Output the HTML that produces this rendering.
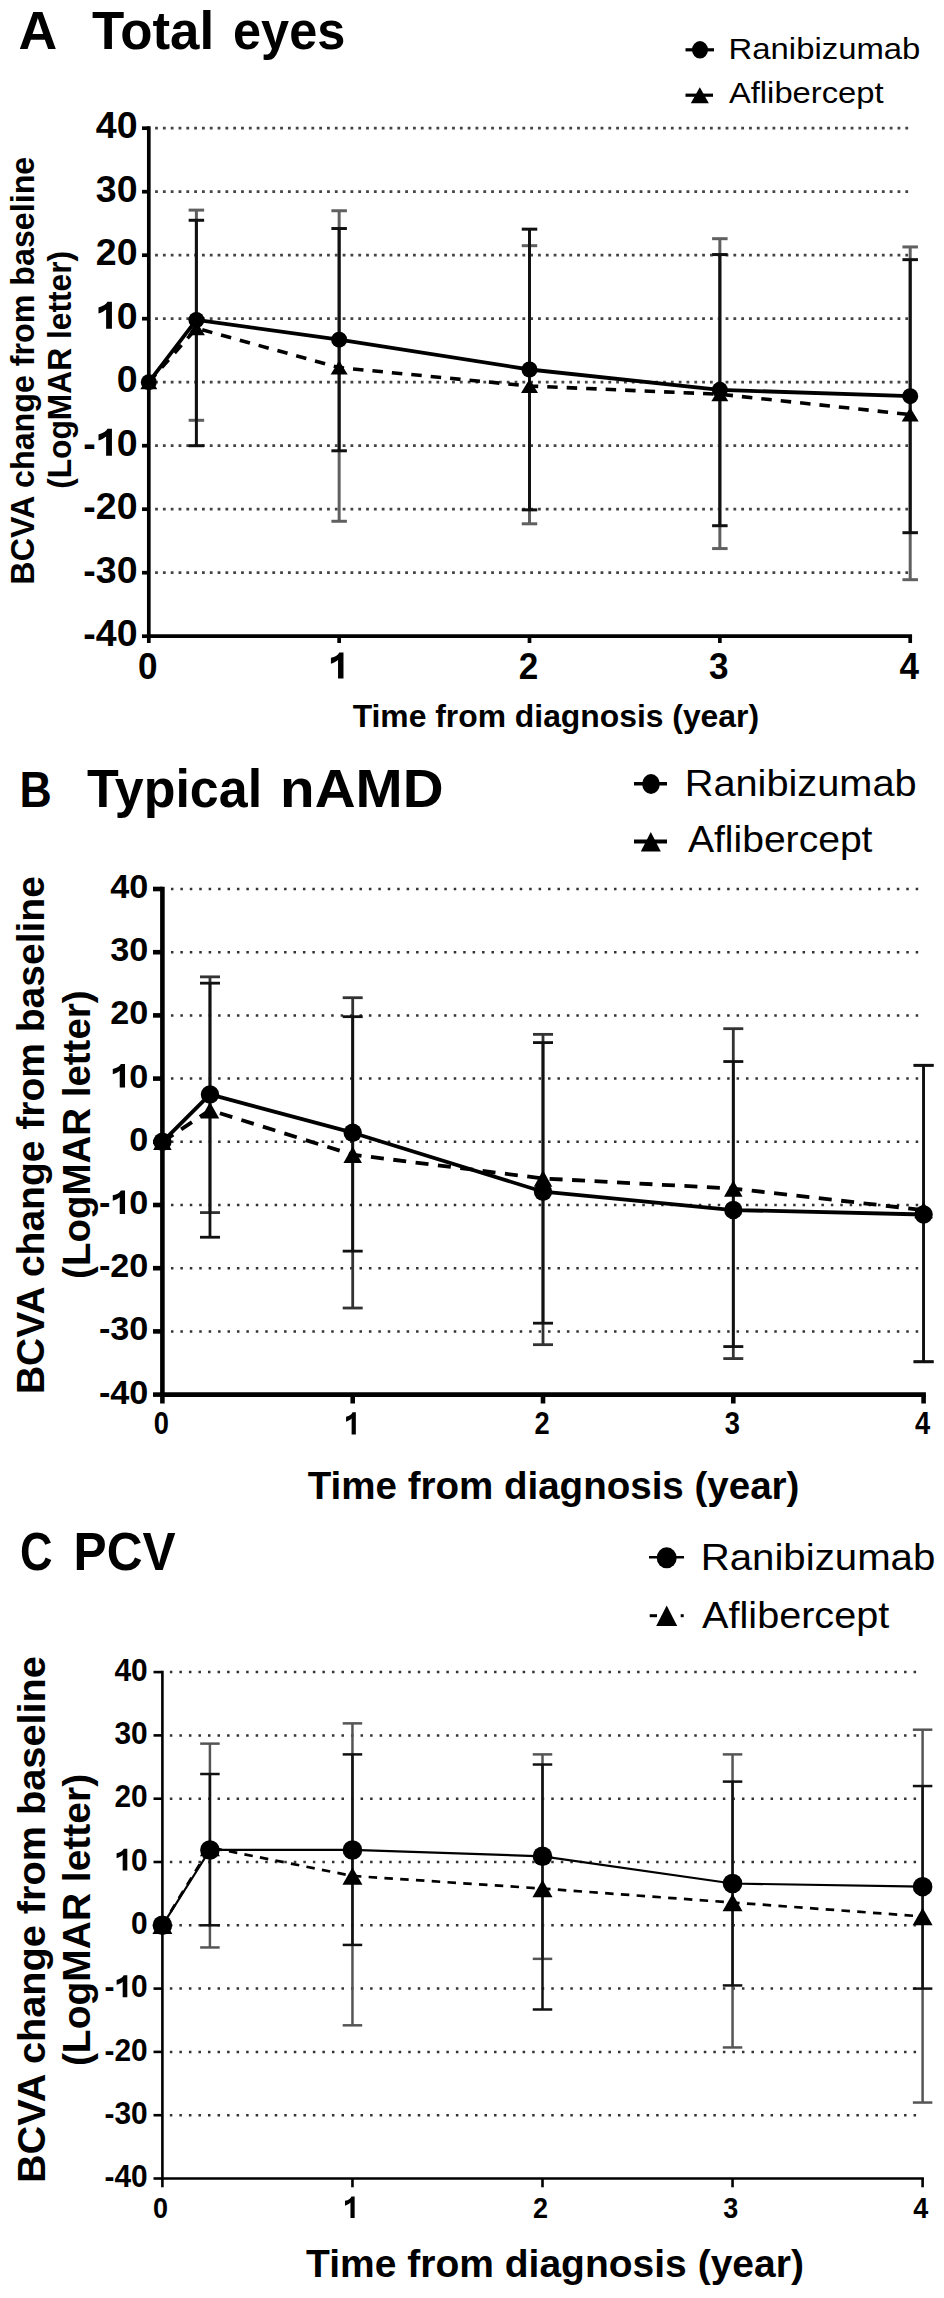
<!DOCTYPE html><html><head><meta charset="utf-8"><style>html,body{margin:0;padding:0;background:#fff;}svg{display:block;}text{font-family:"Liberation Sans",sans-serif;}</style></head><body>
<svg width="944" height="2298" viewBox="0 0 944 2298">
<rect width="944" height="2298" fill="#fff"/>
<line x1="155.1" y1="128.2" x2="908.2" y2="128.2" stroke="#444" stroke-width="2.8" stroke-dasharray="2.8 5.015"/>
<line x1="155.1" y1="191.7" x2="908.2" y2="191.7" stroke="#444" stroke-width="2.8" stroke-dasharray="2.8 5.015"/>
<line x1="155.1" y1="255.2" x2="908.2" y2="255.2" stroke="#444" stroke-width="2.8" stroke-dasharray="2.8 5.015"/>
<line x1="155.1" y1="318.7" x2="908.2" y2="318.7" stroke="#444" stroke-width="2.8" stroke-dasharray="2.8 5.015"/>
<line x1="155.1" y1="382.2" x2="908.2" y2="382.2" stroke="#444" stroke-width="2.8" stroke-dasharray="2.8 5.015"/>
<line x1="155.1" y1="445.7" x2="908.2" y2="445.7" stroke="#444" stroke-width="2.8" stroke-dasharray="2.8 5.015"/>
<line x1="155.1" y1="509.2" x2="908.2" y2="509.2" stroke="#444" stroke-width="2.8" stroke-dasharray="2.8 5.015"/>
<line x1="155.1" y1="572.7" x2="908.2" y2="572.7" stroke="#444" stroke-width="2.8" stroke-dasharray="2.8 5.015"/>
<line x1="196.388" y1="210.115" x2="196.388" y2="420.3" stroke="#606060" stroke-width="3" />
<line x1="188.638" y1="210.115" x2="204.138" y2="210.115" stroke="#606060" stroke-width="3" />
<line x1="188.638" y1="420.3" x2="204.138" y2="420.3" stroke="#606060" stroke-width="3" />
<line x1="339.15" y1="210.75" x2="339.15" y2="521.265" stroke="#606060" stroke-width="3" />
<line x1="331.4" y1="210.75" x2="346.9" y2="210.75" stroke="#606060" stroke-width="3" />
<line x1="331.4" y1="521.265" x2="346.9" y2="521.265" stroke="#606060" stroke-width="3" />
<line x1="529.5" y1="245.675" x2="529.5" y2="523.805" stroke="#606060" stroke-width="3" />
<line x1="521.75" y1="245.675" x2="537.25" y2="245.675" stroke="#606060" stroke-width="3" />
<line x1="521.75" y1="523.805" x2="537.25" y2="523.805" stroke="#606060" stroke-width="3" />
<line x1="719.85" y1="238.69" x2="719.85" y2="548.57" stroke="#606060" stroke-width="3" />
<line x1="712.1" y1="238.69" x2="727.6" y2="238.69" stroke="#606060" stroke-width="3" />
<line x1="712.1" y1="548.57" x2="727.6" y2="548.57" stroke="#606060" stroke-width="3" />
<line x1="910.2" y1="246.945" x2="910.2" y2="579.685" stroke="#606060" stroke-width="3" />
<line x1="902.45" y1="246.945" x2="917.95" y2="246.945" stroke="#606060" stroke-width="3" />
<line x1="902.45" y1="579.685" x2="917.95" y2="579.685" stroke="#606060" stroke-width="3" />
<line x1="196.388" y1="220.275" x2="196.388" y2="445.7" stroke="#111" stroke-width="3" />
<line x1="188.638" y1="220.275" x2="204.138" y2="220.275" stroke="#111" stroke-width="3" />
<line x1="188.638" y1="445.7" x2="204.138" y2="445.7" stroke="#111" stroke-width="3" />
<line x1="339.15" y1="228.53" x2="339.15" y2="450.78" stroke="#111" stroke-width="3" />
<line x1="331.4" y1="228.53" x2="346.9" y2="228.53" stroke="#111" stroke-width="3" />
<line x1="331.4" y1="450.78" x2="346.9" y2="450.78" stroke="#111" stroke-width="3" />
<line x1="529.5" y1="229.165" x2="529.5" y2="509.835" stroke="#111" stroke-width="3" />
<line x1="521.75" y1="229.165" x2="537.25" y2="229.165" stroke="#111" stroke-width="3" />
<line x1="521.75" y1="509.835" x2="537.25" y2="509.835" stroke="#111" stroke-width="3" />
<line x1="719.85" y1="254.565" x2="719.85" y2="525.71" stroke="#111" stroke-width="3" />
<line x1="712.1" y1="254.565" x2="727.6" y2="254.565" stroke="#111" stroke-width="3" />
<line x1="712.1" y1="525.71" x2="727.6" y2="525.71" stroke="#111" stroke-width="3" />
<line x1="910.2" y1="259.645" x2="910.2" y2="532.695" stroke="#111" stroke-width="3" />
<line x1="902.45" y1="259.645" x2="917.95" y2="259.645" stroke="#111" stroke-width="3" />
<line x1="902.45" y1="532.695" x2="917.95" y2="532.695" stroke="#111" stroke-width="3" />
<polyline points="148.8,382.2 196.388,328.225 339.15,367.595 529.5,386.01 719.85,394.265 910.2,414.585" fill="none" stroke="#000" stroke-width="3.6" stroke-dasharray="10.5 9" stroke-linejoin="round"/>
<polyline points="148.8,382.2 196.388,319.97 339.15,339.655 529.5,369.5 719.85,389.82 910.2,396.17" fill="none" stroke="#000" stroke-width="3.8" stroke-linejoin="round"/>
<polygon points="140.3,389.2 157.3,389.2 148.8,375.2" fill="#000"/>
<polygon points="187.888,335.225 204.888,335.225 196.388,321.225" fill="#000"/>
<polygon points="330.65,374.595 347.65,374.595 339.15,360.595" fill="#000"/>
<polygon points="521,393.01 538,393.01 529.5,379.01" fill="#000"/>
<polygon points="711.35,401.265 728.35,401.265 719.85,387.265" fill="#000"/>
<polygon points="901.7,421.585 918.7,421.585 910.2,407.585" fill="#000"/>
<circle cx="148.8" cy="382.2" r="8" fill="#000"/>
<circle cx="196.388" cy="319.97" r="8" fill="#000"/>
<circle cx="339.15" cy="339.655" r="8" fill="#000"/>
<circle cx="529.5" cy="369.5" r="8" fill="#000"/>
<circle cx="719.85" cy="389.82" r="8" fill="#000"/>
<circle cx="910.2" cy="396.17" r="8" fill="#000"/>
<line x1="148.8" y1="126.35" x2="148.8" y2="638.05" stroke="#000" stroke-width="3.7" />
<line x1="146.95" y1="636.2" x2="912.05" y2="636.2" stroke="#000" stroke-width="3.7" />
<line x1="142" y1="636.2" x2="148.8" y2="636.2" stroke="#000" stroke-width="3.7" />
<text x="83.312" y="646.2" font-size="37.5" font-weight="bold" textLength="12.488" lengthAdjust="spacingAndGlyphs">-</text>
<text x="95.801" y="646.2" font-size="37.5" font-weight="bold" textLength="20.856" lengthAdjust="spacingAndGlyphs">4</text>
<text x="116.656" y="646.2" font-size="37.5" font-weight="bold" textLength="20.856" lengthAdjust="spacingAndGlyphs">0</text>
<line x1="142" y1="572.7" x2="148.8" y2="572.7" stroke="#000" stroke-width="3.7" />
<text x="83.312" y="582.7" font-size="37.5" font-weight="bold" textLength="12.488" lengthAdjust="spacingAndGlyphs">-</text>
<text x="95.801" y="582.7" font-size="37.5" font-weight="bold" textLength="20.856" lengthAdjust="spacingAndGlyphs">3</text>
<text x="116.656" y="582.7" font-size="37.5" font-weight="bold" textLength="20.856" lengthAdjust="spacingAndGlyphs">0</text>
<line x1="142" y1="509.2" x2="148.8" y2="509.2" stroke="#000" stroke-width="3.7" />
<text x="83.312" y="519.2" font-size="37.5" font-weight="bold" textLength="12.488" lengthAdjust="spacingAndGlyphs">-</text>
<text x="95.801" y="519.2" font-size="37.5" font-weight="bold" textLength="20.856" lengthAdjust="spacingAndGlyphs">2</text>
<text x="116.656" y="519.2" font-size="37.5" font-weight="bold" textLength="20.856" lengthAdjust="spacingAndGlyphs">0</text>
<line x1="142" y1="445.7" x2="148.8" y2="445.7" stroke="#000" stroke-width="3.7" />
<text x="83.312" y="455.7" font-size="37.5" font-weight="bold" textLength="12.488" lengthAdjust="spacingAndGlyphs">-</text>
<path d="M106.113,455.7 L111.926,455.7 L111.926,428.85 L107.426,428.85 C106.301,431.512 103.301,433.2 98.501,434.4 L98.501,440.512 C101.801,439.575 104.426,438.075 106.113,436.575 Z" fill="#000"/>
<text x="116.656" y="455.7" font-size="37.5" font-weight="bold" textLength="20.856" lengthAdjust="spacingAndGlyphs">0</text>
<line x1="142" y1="382.2" x2="148.8" y2="382.2" stroke="#000" stroke-width="3.7" />
<text x="116.65" y="392.2" font-size="37.5" font-weight="bold" textLength="20.856" lengthAdjust="spacingAndGlyphs">0</text>
<line x1="142" y1="318.7" x2="148.8" y2="318.7" stroke="#000" stroke-width="3.7" />
<path d="M106.112,328.7 L111.925,328.7 L111.925,301.85 L107.425,301.85 C106.3,304.512 103.3,306.2 98.5,307.4 L98.5,313.512 C101.8,312.575 104.425,311.075 106.112,309.575 Z" fill="#000"/>
<text x="116.656" y="328.7" font-size="37.5" font-weight="bold" textLength="20.856" lengthAdjust="spacingAndGlyphs">0</text>
<line x1="142" y1="255.2" x2="148.8" y2="255.2" stroke="#000" stroke-width="3.7" />
<text x="95.8" y="265.2" font-size="37.5" font-weight="bold" textLength="20.856" lengthAdjust="spacingAndGlyphs">2</text>
<text x="116.656" y="265.2" font-size="37.5" font-weight="bold" textLength="20.856" lengthAdjust="spacingAndGlyphs">0</text>
<line x1="142" y1="191.7" x2="148.8" y2="191.7" stroke="#000" stroke-width="3.7" />
<text x="95.8" y="201.7" font-size="37.5" font-weight="bold" textLength="20.856" lengthAdjust="spacingAndGlyphs">3</text>
<text x="116.656" y="201.7" font-size="37.5" font-weight="bold" textLength="20.856" lengthAdjust="spacingAndGlyphs">0</text>
<line x1="142" y1="128.2" x2="148.8" y2="128.2" stroke="#000" stroke-width="3.7" />
<text x="95.8" y="138.2" font-size="37.5" font-weight="bold" textLength="20.856" lengthAdjust="spacingAndGlyphs">4</text>
<text x="116.656" y="138.2" font-size="37.5" font-weight="bold" textLength="20.856" lengthAdjust="spacingAndGlyphs">0</text>
<line x1="148.8" y1="636.2" x2="148.8" y2="643" stroke="#000" stroke-width="3.7" />
<text x="138.032" y="678.5" font-size="36.4" font-weight="bold" textLength="19.536" lengthAdjust="spacingAndGlyphs">0</text>
<line x1="339.15" y1="636.2" x2="339.15" y2="643" stroke="#000" stroke-width="3.7" />
<path d="M338.042,678.5 L343.486,678.5 L343.486,652.438 L339.271,652.438 C338.218,655.022 335.407,656.66 330.911,657.825 L330.911,663.758 C334.002,662.848 336.461,661.392 338.042,659.936 Z" fill="#000"/>
<line x1="529.5" y1="636.2" x2="529.5" y2="643" stroke="#000" stroke-width="3.7" />
<text x="518.732" y="678.5" font-size="36.4" font-weight="bold" textLength="19.536" lengthAdjust="spacingAndGlyphs">2</text>
<line x1="719.85" y1="636.2" x2="719.85" y2="643" stroke="#000" stroke-width="3.7" />
<text x="709.082" y="678.5" font-size="36.4" font-weight="bold" textLength="19.536" lengthAdjust="spacingAndGlyphs">3</text>
<line x1="910.2" y1="636.2" x2="910.2" y2="643" stroke="#000" stroke-width="3.7" />
<text x="899.432" y="678.5" font-size="36.4" font-weight="bold" textLength="19.536" lengthAdjust="spacingAndGlyphs">4</text>
<text x="18.514" y="48.8" font-size="54" font-weight="bold" textLength="38.688" lengthAdjust="spacingAndGlyphs" fill="#000" >A</text>
<text x="91.919" y="48.8" font-size="54" font-weight="bold" textLength="122.25" lengthAdjust="spacingAndGlyphs" fill="#000" >Total</text>
<text x="233.031" y="48.8" font-size="54" font-weight="bold" textLength="112.32" lengthAdjust="spacingAndGlyphs" fill="#000" >eyes</text>
<text x="352.65" y="727" font-size="31.7" font-weight="bold" textLength="406.402" lengthAdjust="spacingAndGlyphs" fill="#000" >Time from diagnosis (year)</text>
<text transform="translate(34,582.5) rotate(-90)" x="-2.127" y="0" font-size="32.5" font-weight="bold" textLength="427.916" lengthAdjust="spacingAndGlyphs">BCVA change from baseline</text>
<text transform="translate(71,487.3) rotate(-90)" x="-1.555" y="0" font-size="32.5" font-weight="bold" textLength="237.912" lengthAdjust="spacingAndGlyphs">(LogMAR letter)</text>
<line x1="685.5" y1="49.8" x2="714" y2="49.8" stroke="#000" stroke-width="3.2" />
<ellipse cx="700" cy="49.8" rx="8" ry="8.7" fill="#000"/>
<text x="728.606" y="58.8" font-size="29.5" font-weight="normal" textLength="191.757" lengthAdjust="spacingAndGlyphs" fill="#000" >Ranibizumab</text>
<line x1="685.5" y1="95.2" x2="713" y2="95.2" stroke="#000" stroke-width="3.2" />
<polygon points="690.8,103.2 708.8,103.2 699.8,87.2" fill="#000"/>
<text x="728.935" y="103.2" font-size="29.5" font-weight="normal" textLength="154.683" lengthAdjust="spacingAndGlyphs" fill="#000" >Aflibercept</text>
<line x1="170.95" y1="889" x2="918.3" y2="889" stroke="#333" stroke-width="2.5" stroke-dasharray="2.5 6.927"/>
<line x1="170.95" y1="952.2" x2="918.3" y2="952.2" stroke="#333" stroke-width="2.5" stroke-dasharray="2.5 6.927"/>
<line x1="170.95" y1="1015.4" x2="918.3" y2="1015.4" stroke="#333" stroke-width="2.5" stroke-dasharray="2.5 6.927"/>
<line x1="170.95" y1="1078.6" x2="918.3" y2="1078.6" stroke="#333" stroke-width="2.5" stroke-dasharray="2.5 6.927"/>
<line x1="170.95" y1="1141.8" x2="918.3" y2="1141.8" stroke="#333" stroke-width="2.5" stroke-dasharray="2.5 6.927"/>
<line x1="170.95" y1="1205" x2="918.3" y2="1205" stroke="#333" stroke-width="2.5" stroke-dasharray="2.5 6.927"/>
<line x1="170.95" y1="1268.2" x2="918.3" y2="1268.2" stroke="#333" stroke-width="2.5" stroke-dasharray="2.5 6.927"/>
<line x1="170.95" y1="1331.4" x2="918.3" y2="1331.4" stroke="#333" stroke-width="2.5" stroke-dasharray="2.5 6.927"/>
<line x1="209.975" y1="976.848" x2="209.975" y2="1212.584" stroke="#333" stroke-width="2.8" />
<line x1="199.975" y1="976.848" x2="219.975" y2="976.848" stroke="#333" stroke-width="2.8" />
<line x1="199.975" y1="1212.584" x2="219.975" y2="1212.584" stroke="#333" stroke-width="2.8" />
<line x1="352.7" y1="997.704" x2="352.7" y2="1308.016" stroke="#333" stroke-width="2.8" />
<line x1="342.7" y1="997.704" x2="362.7" y2="997.704" stroke="#333" stroke-width="2.8" />
<line x1="342.7" y1="1308.016" x2="362.7" y2="1308.016" stroke="#333" stroke-width="2.8" />
<line x1="543" y1="1034.36" x2="543" y2="1344.672" stroke="#333" stroke-width="2.8" />
<line x1="533" y1="1034.36" x2="553" y2="1034.36" stroke="#333" stroke-width="2.8" />
<line x1="533" y1="1344.672" x2="553" y2="1344.672" stroke="#333" stroke-width="2.8" />
<line x1="733.3" y1="1028.672" x2="733.3" y2="1358.576" stroke="#333" stroke-width="2.8" />
<line x1="723.3" y1="1028.672" x2="743.3" y2="1028.672" stroke="#333" stroke-width="2.8" />
<line x1="723.3" y1="1358.576" x2="743.3" y2="1358.576" stroke="#333" stroke-width="2.8" />
<line x1="923.6" y1="1065.328" x2="923.6" y2="1361.736" stroke="#333" stroke-width="2.8" />
<line x1="913.6" y1="1065.328" x2="933.6" y2="1065.328" stroke="#333" stroke-width="2.8" />
<line x1="913.6" y1="1361.736" x2="933.6" y2="1361.736" stroke="#333" stroke-width="2.8" />
<line x1="209.975" y1="983.168" x2="209.975" y2="1237.232" stroke="#111" stroke-width="2.8" />
<line x1="199.975" y1="983.168" x2="219.975" y2="983.168" stroke="#111" stroke-width="2.8" />
<line x1="199.975" y1="1237.232" x2="219.975" y2="1237.232" stroke="#111" stroke-width="2.8" />
<line x1="352.7" y1="1016.664" x2="352.7" y2="1251.136" stroke="#111" stroke-width="2.8" />
<line x1="342.7" y1="1016.664" x2="362.7" y2="1016.664" stroke="#111" stroke-width="2.8" />
<line x1="342.7" y1="1251.136" x2="362.7" y2="1251.136" stroke="#111" stroke-width="2.8" />
<line x1="543" y1="1042.576" x2="543" y2="1323.184" stroke="#111" stroke-width="2.8" />
<line x1="533" y1="1042.576" x2="553" y2="1042.576" stroke="#111" stroke-width="2.8" />
<line x1="533" y1="1323.184" x2="553" y2="1323.184" stroke="#111" stroke-width="2.8" />
<line x1="733.3" y1="1061.536" x2="733.3" y2="1346.568" stroke="#111" stroke-width="2.8" />
<line x1="723.3" y1="1061.536" x2="743.3" y2="1061.536" stroke="#111" stroke-width="2.8" />
<line x1="723.3" y1="1346.568" x2="743.3" y2="1346.568" stroke="#111" stroke-width="2.8" />
<line x1="923.6" y1="1065.328" x2="923.6" y2="1361.736" stroke="#111" stroke-width="2.8" />
<line x1="913.6" y1="1065.328" x2="933.6" y2="1065.328" stroke="#111" stroke-width="2.8" />
<line x1="913.6" y1="1361.736" x2="933.6" y2="1361.736" stroke="#111" stroke-width="2.8" />
<polyline points="162.4,1141.8 209.975,1110.2 352.7,1154.693 543,1178.456 733.3,1188.568 923.6,1210.056" fill="none" stroke="#000" stroke-width="3.8" stroke-dasharray="13 9.5" stroke-linejoin="round"/>
<polyline points="162.4,1141.8 209.975,1094.4 352.7,1132.699 543,1191.728 733.3,1210.056 923.6,1214.48" fill="none" stroke="#000" stroke-width="3.8" stroke-linejoin="round"/>
<polygon points="153.15,1150.05 171.65,1150.05 162.4,1133.55" fill="#000"/>
<polygon points="200.725,1118.45 219.225,1118.45 209.975,1101.95" fill="#000"/>
<polygon points="343.45,1162.943 361.95,1162.943 352.7,1146.443" fill="#000"/>
<polygon points="533.75,1186.706 552.25,1186.706 543,1170.206" fill="#000"/>
<polygon points="724.05,1196.818 742.55,1196.818 733.3,1180.318" fill="#000"/>
<polygon points="914.35,1218.306 932.85,1218.306 923.6,1201.806" fill="#000"/>
<circle cx="162.4" cy="1141.8" r="9.2" fill="#000"/>
<circle cx="209.975" cy="1094.4" r="9.2" fill="#000"/>
<circle cx="352.7" cy="1132.699" r="9.2" fill="#000"/>
<circle cx="543" cy="1191.728" r="9.2" fill="#000"/>
<circle cx="733.3" cy="1210.056" r="9.2" fill="#000"/>
<circle cx="923.6" cy="1214.48" r="9.2" fill="#000"/>
<line x1="162.4" y1="886.7" x2="162.4" y2="1396.9" stroke="#000" stroke-width="4.6" />
<line x1="160.1" y1="1394.6" x2="925.9" y2="1394.6" stroke="#000" stroke-width="4.6" />
<line x1="153" y1="1394.6" x2="162.4" y2="1394.6" stroke="#000" stroke-width="4.6" />
<text x="98.927" y="1403.6" font-size="32.9" font-weight="bold" textLength="11.394" lengthAdjust="spacingAndGlyphs">-</text>
<text x="110.321" y="1403.6" font-size="32.9" font-weight="bold" textLength="19.029" lengthAdjust="spacingAndGlyphs">4</text>
<text x="129.35" y="1403.6" font-size="32.9" font-weight="bold" textLength="19.029" lengthAdjust="spacingAndGlyphs">0</text>
<line x1="153" y1="1331.4" x2="162.4" y2="1331.4" stroke="#000" stroke-width="4.6" />
<text x="98.927" y="1340.4" font-size="32.9" font-weight="bold" textLength="11.394" lengthAdjust="spacingAndGlyphs">-</text>
<text x="110.321" y="1340.4" font-size="32.9" font-weight="bold" textLength="19.029" lengthAdjust="spacingAndGlyphs">3</text>
<text x="129.35" y="1340.4" font-size="32.9" font-weight="bold" textLength="19.029" lengthAdjust="spacingAndGlyphs">0</text>
<line x1="153" y1="1268.2" x2="162.4" y2="1268.2" stroke="#000" stroke-width="4.6" />
<text x="98.927" y="1277.2" font-size="32.9" font-weight="bold" textLength="11.394" lengthAdjust="spacingAndGlyphs">-</text>
<text x="110.321" y="1277.2" font-size="32.9" font-weight="bold" textLength="19.029" lengthAdjust="spacingAndGlyphs">2</text>
<text x="129.35" y="1277.2" font-size="32.9" font-weight="bold" textLength="19.029" lengthAdjust="spacingAndGlyphs">0</text>
<line x1="153" y1="1205" x2="162.4" y2="1205" stroke="#000" stroke-width="4.6" />
<text x="98.927" y="1214" font-size="32.9" font-weight="bold" textLength="11.394" lengthAdjust="spacingAndGlyphs">-</text>
<path d="M119.73,1214 L125.034,1214 L125.034,1190.444 L120.928,1190.444 C119.901,1192.78 117.164,1194.26 112.785,1195.313 L112.785,1200.676 C115.796,1199.853 118.191,1198.537 119.73,1197.221 Z" fill="#000"/>
<text x="129.35" y="1214" font-size="32.9" font-weight="bold" textLength="19.029" lengthAdjust="spacingAndGlyphs">0</text>
<line x1="153" y1="1141.8" x2="162.4" y2="1141.8" stroke="#000" stroke-width="4.6" />
<text x="129.345" y="1150.8" font-size="32.9" font-weight="bold" textLength="19.029" lengthAdjust="spacingAndGlyphs">0</text>
<line x1="153" y1="1078.6" x2="162.4" y2="1078.6" stroke="#000" stroke-width="4.6" />
<path d="M119.73,1087.6 L125.033,1087.6 L125.033,1064.044 L120.927,1064.044 C119.901,1066.38 117.164,1067.86 112.784,1068.913 L112.784,1074.275 C115.795,1073.453 118.19,1072.137 119.73,1070.821 Z" fill="#000"/>
<text x="129.35" y="1087.6" font-size="32.9" font-weight="bold" textLength="19.029" lengthAdjust="spacingAndGlyphs">0</text>
<line x1="153" y1="1015.4" x2="162.4" y2="1015.4" stroke="#000" stroke-width="4.6" />
<text x="110.32" y="1024.4" font-size="32.9" font-weight="bold" textLength="19.029" lengthAdjust="spacingAndGlyphs">2</text>
<text x="129.35" y="1024.4" font-size="32.9" font-weight="bold" textLength="19.029" lengthAdjust="spacingAndGlyphs">0</text>
<line x1="153" y1="952.2" x2="162.4" y2="952.2" stroke="#000" stroke-width="4.6" />
<text x="110.32" y="961.2" font-size="32.9" font-weight="bold" textLength="19.029" lengthAdjust="spacingAndGlyphs">3</text>
<text x="129.35" y="961.2" font-size="32.9" font-weight="bold" textLength="19.029" lengthAdjust="spacingAndGlyphs">0</text>
<line x1="153" y1="889" x2="162.4" y2="889" stroke="#000" stroke-width="4.6" />
<text x="110.32" y="898" font-size="32.9" font-weight="bold" textLength="19.029" lengthAdjust="spacingAndGlyphs">4</text>
<text x="129.35" y="898" font-size="32.9" font-weight="bold" textLength="19.029" lengthAdjust="spacingAndGlyphs">0</text>
<line x1="162.4" y1="1394.6" x2="162.4" y2="1403.5" stroke="#000" stroke-width="4.6" />
<text x="153.814" y="1434.4" font-size="31" font-weight="bold" textLength="15.172" lengthAdjust="spacingAndGlyphs">0</text>
<line x1="352.7" y1="1394.6" x2="352.7" y2="1403.5" stroke="#000" stroke-width="4.6" />
<path d="M351.616,1434.4 L355.844,1434.4 L355.844,1412.204 L352.571,1412.204 C351.752,1414.405 349.57,1415.8 346.078,1416.792 L346.078,1421.845 C348.479,1421.07 350.388,1419.83 351.616,1418.59 Z" fill="#000"/>
<line x1="543" y1="1394.6" x2="543" y2="1403.5" stroke="#000" stroke-width="4.6" />
<text x="534.414" y="1434.4" font-size="31" font-weight="bold" textLength="15.172" lengthAdjust="spacingAndGlyphs">2</text>
<line x1="733.3" y1="1394.6" x2="733.3" y2="1403.5" stroke="#000" stroke-width="4.6" />
<text x="724.714" y="1434.4" font-size="31" font-weight="bold" textLength="15.172" lengthAdjust="spacingAndGlyphs">3</text>
<line x1="923.6" y1="1394.6" x2="923.6" y2="1403.5" stroke="#000" stroke-width="4.6" />
<text x="915.014" y="1434.4" font-size="31" font-weight="bold" textLength="15.172" lengthAdjust="spacingAndGlyphs">4</text>
<text x="19.551" y="807.1" font-size="50.6" font-weight="bold" textLength="32.267" lengthAdjust="spacingAndGlyphs" fill="#000" >B</text>
<text x="86.928" y="807.2" font-size="53" font-weight="bold" textLength="175.188" lengthAdjust="spacingAndGlyphs" fill="#000" >Typical</text>
<text x="280.122" y="807.2" font-size="53" font-weight="bold" textLength="163.409" lengthAdjust="spacingAndGlyphs" fill="#000" >nAMD</text>
<text x="307.776" y="1499.2" font-size="38" font-weight="bold" textLength="491.601" lengthAdjust="spacingAndGlyphs" fill="#000" >Time from diagnosis (year)</text>
<text transform="translate(44,1391.5) rotate(-90)" x="-2.574" y="0" font-size="38.5" font-weight="bold" textLength="517.892" lengthAdjust="spacingAndGlyphs">BCVA change from baseline</text>
<text transform="translate(89.8,1277) rotate(-90)" x="-1.885" y="0" font-size="38.5" font-weight="bold" textLength="288.473" lengthAdjust="spacingAndGlyphs">(LogMAR letter)</text>
<line x1="634" y1="783.8" x2="667" y2="783.8" stroke="#000" stroke-width="3.5" />
<ellipse cx="651" cy="784" rx="8.8" ry="10" fill="#000"/>
<text x="684.742" y="795.5" font-size="36" font-weight="normal" textLength="231.906" lengthAdjust="spacingAndGlyphs" fill="#000" >Ranibizumab</text>
<line x1="634" y1="841.6" x2="667" y2="841.6" stroke="#000" stroke-width="4" />
<polygon points="640.8,851.55 660.8,851.55 650.8,832.05" fill="#000"/>
<text x="687.922" y="852" font-size="36" font-weight="normal" textLength="184.537" lengthAdjust="spacingAndGlyphs" fill="#000" >Aflibercept</text>
<line x1="169.85" y1="1672.1" x2="916.5" y2="1672.1" stroke="#333" stroke-width="2.5" stroke-dasharray="2.5 7.035"/>
<line x1="169.85" y1="1735.4" x2="916.5" y2="1735.4" stroke="#333" stroke-width="2.5" stroke-dasharray="2.5 7.035"/>
<line x1="169.85" y1="1798.7" x2="916.5" y2="1798.7" stroke="#333" stroke-width="2.5" stroke-dasharray="2.5 7.035"/>
<line x1="169.85" y1="1862" x2="916.5" y2="1862" stroke="#333" stroke-width="2.5" stroke-dasharray="2.5 7.035"/>
<line x1="169.85" y1="1925.3" x2="916.5" y2="1925.3" stroke="#333" stroke-width="2.5" stroke-dasharray="2.5 7.035"/>
<line x1="169.85" y1="1988.6" x2="916.5" y2="1988.6" stroke="#333" stroke-width="2.5" stroke-dasharray="2.5 7.035"/>
<line x1="169.85" y1="2051.9" x2="916.5" y2="2051.9" stroke="#333" stroke-width="2.5" stroke-dasharray="2.5 7.035"/>
<line x1="169.85" y1="2115.2" x2="916.5" y2="2115.2" stroke="#333" stroke-width="2.5" stroke-dasharray="2.5 7.035"/>
<line x1="209.913" y1="1743.629" x2="209.913" y2="1947.455" stroke="#555" stroke-width="2.5" />
<line x1="200.163" y1="1743.629" x2="219.663" y2="1743.629" stroke="#555" stroke-width="2.5" />
<line x1="200.163" y1="1947.455" x2="219.663" y2="1947.455" stroke="#555" stroke-width="2.5" />
<line x1="352.45" y1="1723.373" x2="352.45" y2="2025.314" stroke="#555" stroke-width="2.5" />
<line x1="342.7" y1="1723.373" x2="362.2" y2="1723.373" stroke="#555" stroke-width="2.5" />
<line x1="342.7" y1="2025.314" x2="362.2" y2="2025.314" stroke="#555" stroke-width="2.5" />
<line x1="542.5" y1="1754.39" x2="542.5" y2="1958.849" stroke="#555" stroke-width="2.5" />
<line x1="532.75" y1="1754.39" x2="552.25" y2="1754.39" stroke="#555" stroke-width="2.5" />
<line x1="532.75" y1="1958.849" x2="552.25" y2="1958.849" stroke="#555" stroke-width="2.5" />
<line x1="732.55" y1="1754.39" x2="732.55" y2="2047.469" stroke="#555" stroke-width="2.5" />
<line x1="722.8" y1="1754.39" x2="742.3" y2="1754.39" stroke="#555" stroke-width="2.5" />
<line x1="722.8" y1="2047.469" x2="742.3" y2="2047.469" stroke="#555" stroke-width="2.5" />
<line x1="922.6" y1="1729.703" x2="922.6" y2="2102.54" stroke="#555" stroke-width="2.5" />
<line x1="912.85" y1="1729.703" x2="932.35" y2="1729.703" stroke="#555" stroke-width="2.5" />
<line x1="912.85" y1="2102.54" x2="932.35" y2="2102.54" stroke="#555" stroke-width="2.5" />
<line x1="209.913" y1="1774.013" x2="209.913" y2="1925.3" stroke="#111" stroke-width="2.5" />
<line x1="200.163" y1="1774.013" x2="219.663" y2="1774.013" stroke="#111" stroke-width="2.5" />
<line x1="200.163" y1="1925.3" x2="219.663" y2="1925.3" stroke="#111" stroke-width="2.5" />
<line x1="352.45" y1="1754.39" x2="352.45" y2="1944.923" stroke="#111" stroke-width="2.5" />
<line x1="342.7" y1="1754.39" x2="362.2" y2="1754.39" stroke="#111" stroke-width="2.5" />
<line x1="342.7" y1="1944.923" x2="362.2" y2="1944.923" stroke="#111" stroke-width="2.5" />
<line x1="542.5" y1="1764.518" x2="542.5" y2="2009.489" stroke="#111" stroke-width="2.5" />
<line x1="532.75" y1="1764.518" x2="552.25" y2="1764.518" stroke="#111" stroke-width="2.5" />
<line x1="532.75" y1="2009.489" x2="552.25" y2="2009.489" stroke="#111" stroke-width="2.5" />
<line x1="732.55" y1="1781.609" x2="732.55" y2="1985.435" stroke="#111" stroke-width="2.5" />
<line x1="722.8" y1="1781.609" x2="742.3" y2="1781.609" stroke="#111" stroke-width="2.5" />
<line x1="722.8" y1="1985.435" x2="742.3" y2="1985.435" stroke="#111" stroke-width="2.5" />
<line x1="922.6" y1="1786.04" x2="922.6" y2="1988.6" stroke="#111" stroke-width="2.5" />
<line x1="912.85" y1="1786.04" x2="932.35" y2="1786.04" stroke="#111" stroke-width="2.5" />
<line x1="912.85" y1="1988.6" x2="932.35" y2="1988.6" stroke="#111" stroke-width="2.5" />
<polyline points="162.4,1925.3 209.913,1847.441 352.45,1875.926 542.5,1888.586 732.55,1902.512 922.6,1916.438" fill="none" stroke="#000" stroke-width="2.7" stroke-dasharray="8.5 7.3" stroke-linejoin="round"/>
<polyline points="162.4,1925.3 209.913,1849.973 352.45,1849.973 542.5,1856.303 732.55,1883.522 922.6,1886.687" fill="none" stroke="#000" stroke-width="2.2" stroke-linejoin="round"/>
<polygon points="152.4,1934.05 172.4,1934.05 162.4,1916.55" fill="#000"/>
<polygon points="199.913,1856.191 219.913,1856.191 209.913,1838.691" fill="#000"/>
<polygon points="342.45,1884.676 362.45,1884.676 352.45,1867.176" fill="#000"/>
<polygon points="532.5,1897.336 552.5,1897.336 542.5,1879.836" fill="#000"/>
<polygon points="722.55,1911.262 742.55,1911.262 732.55,1893.762" fill="#000"/>
<polygon points="912.6,1925.188 932.6,1925.188 922.6,1907.688" fill="#000"/>
<circle cx="162.4" cy="1925.3" r="9.8" fill="#000"/>
<circle cx="209.913" cy="1849.973" r="9.8" fill="#000"/>
<circle cx="352.45" cy="1849.973" r="9.8" fill="#000"/>
<circle cx="542.5" cy="1856.303" r="9.8" fill="#000"/>
<circle cx="732.55" cy="1883.522" r="9.8" fill="#000"/>
<circle cx="922.6" cy="1886.687" r="9.8" fill="#000"/>
<line x1="162.4" y1="1670.8" x2="162.4" y2="2179.8" stroke="#000" stroke-width="2.6" />
<line x1="161.1" y1="2178.5" x2="923.9" y2="2178.5" stroke="#000" stroke-width="2.6" />
<line x1="153.5" y1="2178.5" x2="162.4" y2="2178.5" stroke="#000" stroke-width="2.6" />
<text x="104.505" y="2187.1" font-size="30.5" font-weight="bold" textLength="9.954" lengthAdjust="spacingAndGlyphs">-</text>
<text x="114.458" y="2187.1" font-size="30.5" font-weight="bold" textLength="16.624" lengthAdjust="spacingAndGlyphs">4</text>
<text x="131.082" y="2187.1" font-size="30.5" font-weight="bold" textLength="16.624" lengthAdjust="spacingAndGlyphs">0</text>
<line x1="153.5" y1="2115.2" x2="162.4" y2="2115.2" stroke="#000" stroke-width="2.6" />
<text x="104.505" y="2123.8" font-size="30.5" font-weight="bold" textLength="9.954" lengthAdjust="spacingAndGlyphs">-</text>
<text x="114.458" y="2123.8" font-size="30.5" font-weight="bold" textLength="16.624" lengthAdjust="spacingAndGlyphs">3</text>
<text x="131.082" y="2123.8" font-size="30.5" font-weight="bold" textLength="16.624" lengthAdjust="spacingAndGlyphs">0</text>
<line x1="153.5" y1="2051.9" x2="162.4" y2="2051.9" stroke="#000" stroke-width="2.6" />
<text x="104.505" y="2060.5" font-size="30.5" font-weight="bold" textLength="9.954" lengthAdjust="spacingAndGlyphs">-</text>
<text x="114.458" y="2060.5" font-size="30.5" font-weight="bold" textLength="16.624" lengthAdjust="spacingAndGlyphs">2</text>
<text x="131.082" y="2060.5" font-size="30.5" font-weight="bold" textLength="16.624" lengthAdjust="spacingAndGlyphs">0</text>
<line x1="153.5" y1="1988.6" x2="162.4" y2="1988.6" stroke="#000" stroke-width="2.6" />
<text x="104.505" y="1997.2" font-size="30.5" font-weight="bold" textLength="9.954" lengthAdjust="spacingAndGlyphs">-</text>
<path d="M122.678,1997.2 L127.311,1997.2 L127.311,1975.362 L123.724,1975.362 C122.828,1977.527 120.436,1978.9 116.61,1979.876 L116.61,1984.847 C119.241,1984.085 121.333,1982.865 122.678,1981.645 Z" fill="#000"/>
<text x="131.082" y="1997.2" font-size="30.5" font-weight="bold" textLength="16.624" lengthAdjust="spacingAndGlyphs">0</text>
<line x1="153.5" y1="1925.3" x2="162.4" y2="1925.3" stroke="#000" stroke-width="2.6" />
<text x="131.077" y="1933.9" font-size="30.5" font-weight="bold" textLength="16.624" lengthAdjust="spacingAndGlyphs">0</text>
<line x1="153.5" y1="1862" x2="162.4" y2="1862" stroke="#000" stroke-width="2.6" />
<path d="M122.678,1870.6 L127.311,1870.6 L127.311,1848.762 L123.724,1848.762 C122.827,1850.928 120.436,1852.3 116.61,1853.276 L116.61,1858.247 C119.24,1857.485 121.333,1856.265 122.678,1855.045 Z" fill="#000"/>
<text x="131.081" y="1870.6" font-size="30.5" font-weight="bold" textLength="16.624" lengthAdjust="spacingAndGlyphs">0</text>
<line x1="153.5" y1="1798.7" x2="162.4" y2="1798.7" stroke="#000" stroke-width="2.6" />
<text x="114.458" y="1807.3" font-size="30.5" font-weight="bold" textLength="16.624" lengthAdjust="spacingAndGlyphs">2</text>
<text x="131.081" y="1807.3" font-size="30.5" font-weight="bold" textLength="16.624" lengthAdjust="spacingAndGlyphs">0</text>
<line x1="153.5" y1="1735.4" x2="162.4" y2="1735.4" stroke="#000" stroke-width="2.6" />
<text x="114.458" y="1744" font-size="30.5" font-weight="bold" textLength="16.624" lengthAdjust="spacingAndGlyphs">3</text>
<text x="131.081" y="1744" font-size="30.5" font-weight="bold" textLength="16.624" lengthAdjust="spacingAndGlyphs">0</text>
<line x1="153.5" y1="1672.1" x2="162.4" y2="1672.1" stroke="#000" stroke-width="2.6" />
<text x="114.458" y="1680.7" font-size="30.5" font-weight="bold" textLength="16.624" lengthAdjust="spacingAndGlyphs">4</text>
<text x="131.081" y="1680.7" font-size="30.5" font-weight="bold" textLength="16.624" lengthAdjust="spacingAndGlyphs">0</text>
<line x1="162.4" y1="2178.5" x2="162.4" y2="2187.3" stroke="#000" stroke-width="2.6" />
<text x="152.992" y="2217.9" font-size="30" font-weight="bold" textLength="15.016" lengthAdjust="spacingAndGlyphs">0</text>
<line x1="352.45" y1="2178.5" x2="352.45" y2="2187.3" stroke="#000" stroke-width="2.6" />
<path d="M350.467,2217.9 L354.652,2217.9 L354.652,2196.42 L351.412,2196.42 C350.602,2198.55 348.442,2199.9 344.986,2200.86 L344.986,2205.75 C347.362,2205 349.252,2203.8 350.467,2202.6 Z" fill="#000"/>
<line x1="542.5" y1="2178.5" x2="542.5" y2="2187.3" stroke="#000" stroke-width="2.6" />
<text x="533.092" y="2217.9" font-size="30" font-weight="bold" textLength="15.016" lengthAdjust="spacingAndGlyphs">2</text>
<line x1="732.55" y1="2178.5" x2="732.55" y2="2187.3" stroke="#000" stroke-width="2.6" />
<text x="723.142" y="2217.9" font-size="30" font-weight="bold" textLength="15.016" lengthAdjust="spacingAndGlyphs">3</text>
<line x1="922.6" y1="2178.5" x2="922.6" y2="2187.3" stroke="#000" stroke-width="2.6" />
<text x="913.192" y="2217.9" font-size="30" font-weight="bold" textLength="15.016" lengthAdjust="spacingAndGlyphs">4</text>
<text x="19.951" y="1570" font-size="53" font-weight="bold" textLength="32.575" lengthAdjust="spacingAndGlyphs" fill="#000" >C</text>
<text x="73.523" y="1570" font-size="53" font-weight="bold" textLength="102.083" lengthAdjust="spacingAndGlyphs" fill="#000" >PCV</text>
<text x="306.071" y="2277.3" font-size="38.5" font-weight="bold" textLength="497.83" lengthAdjust="spacingAndGlyphs" fill="#000" >Time from diagnosis (year)</text>
<text transform="translate(44.6,2180.5) rotate(-90)" x="-2.619" y="0" font-size="39.5" font-weight="bold" textLength="526.96" lengthAdjust="spacingAndGlyphs">BCVA change from baseline</text>
<text transform="translate(90.2,2064.2) rotate(-90)" x="-1.909" y="0" font-size="39.5" font-weight="bold" textLength="292.222" lengthAdjust="spacingAndGlyphs">(LogMAR letter)</text>
<line x1="649" y1="1557.2" x2="684" y2="1557.2" stroke="#000" stroke-width="2.5" />
<ellipse cx="666.7" cy="1557.8" rx="10" ry="10.5" fill="#000"/>
<text x="700.703" y="1570" font-size="37.5" font-weight="normal" textLength="234.664" lengthAdjust="spacingAndGlyphs" fill="#000" >Ranibizumab</text>
<line x1="649.7" y1="1615.7" x2="657" y2="1615.7" stroke="#000" stroke-width="3" />
<line x1="680.7" y1="1615.7" x2="683.7" y2="1615.7" stroke="#000" stroke-width="3" />
<polygon points="656.2,1625.95 677.2,1625.95 666.7,1605.45" fill="#000"/>
<text x="702.121" y="1627.8" font-size="37.5" font-weight="normal" textLength="187.142" lengthAdjust="spacingAndGlyphs" fill="#000" >Aflibercept</text>
</svg></body></html>
